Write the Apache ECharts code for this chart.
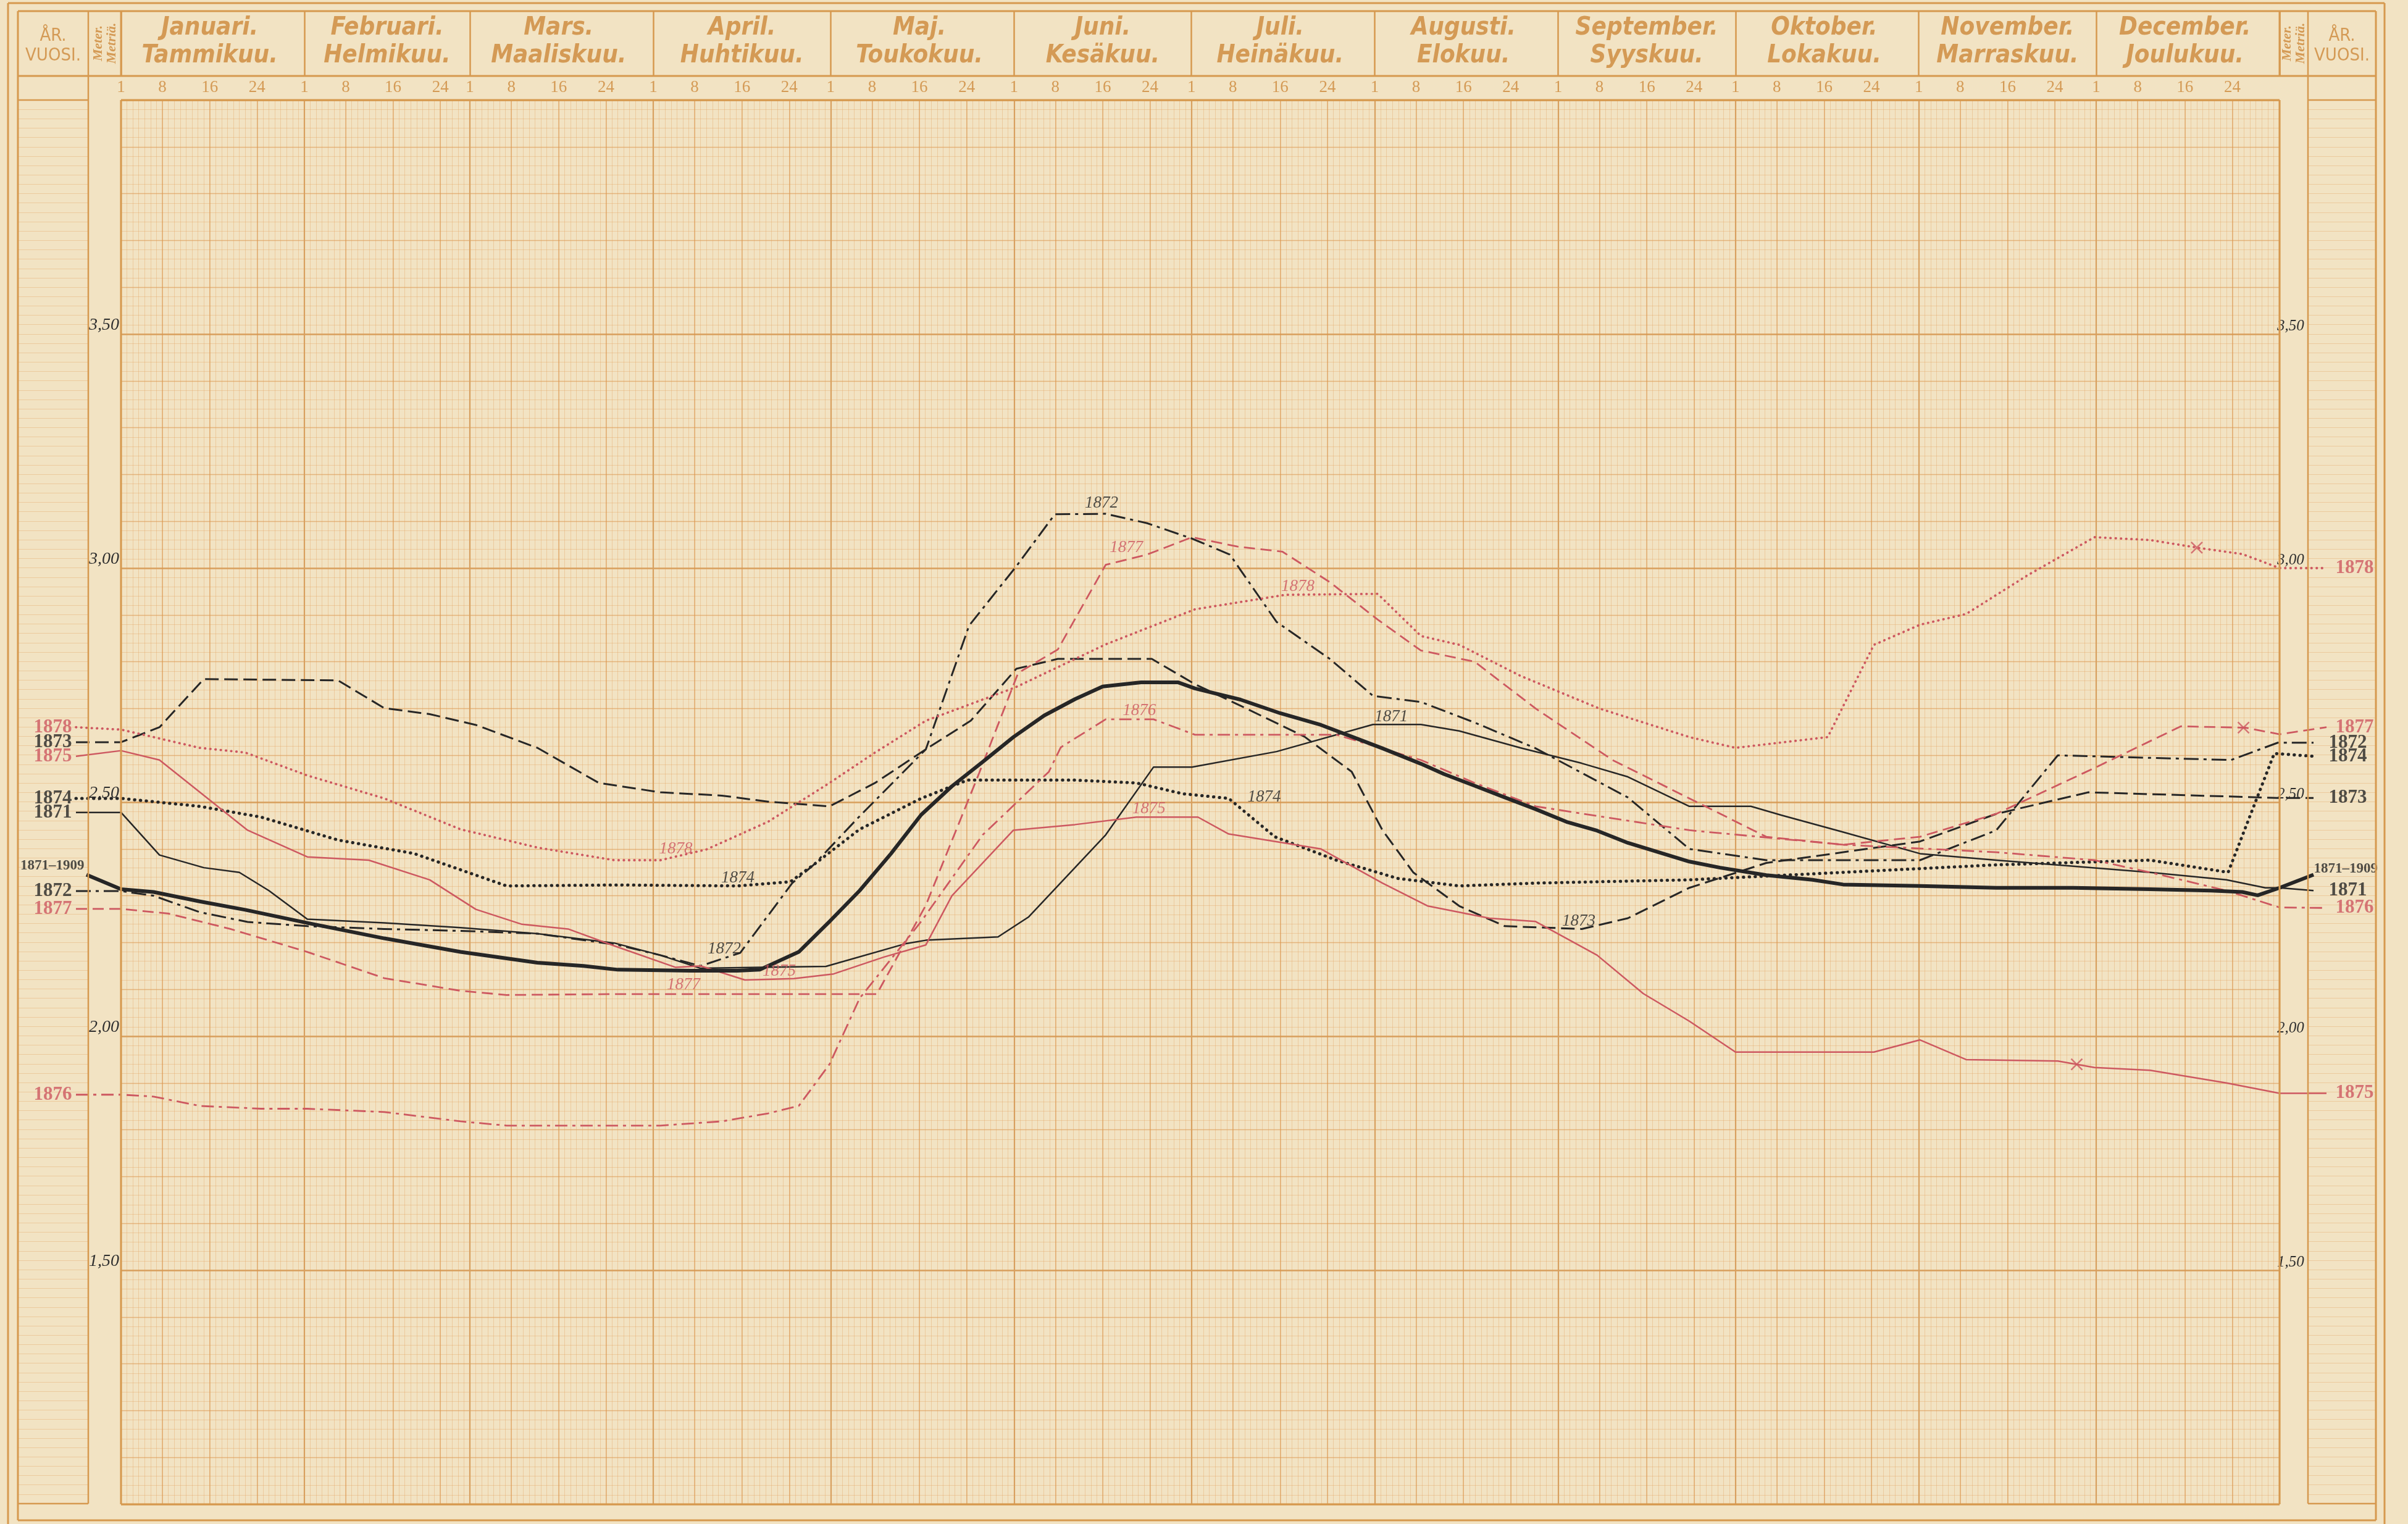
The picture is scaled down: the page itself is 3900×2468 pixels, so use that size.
<!DOCTYPE html>
<html><head><meta charset="utf-8">
<script src="https://cdn.jsdelivr.net/npm/echarts@6/dist/echarts.min.js"></script>
<style>html,body{margin:0;padding:0;background:#f2e3c3}#c{width:3900px;height:2468px}</style>
</head><body><div id="c"></div><script>
// ---------- categories / tick labels ----------
const monthsSv = ['Januari.','Februari.','Mars.','April.','Maj.','Juni.','Juli.','Augusti.','September.','Oktober.','November.','December.'];
const monthsFi = ['Tammikuu.','Helmikuu.','Maaliskuu.','Huhtikuu.','Toukokuu.','Kesäkuu.','Heinäkuu.','Elokuu.','Syyskuu.','Lokakuu.','Marraskuu.','Joulukuu.'];
const monthDays = [31,28,31,30,31,30,31,31,30,31,30,31];
const dayTickLabels = [1,8,16,24];
const yLabelTicks = [1.5,2.0,2.5,3.0,3.5];

// ---------- series: [day of year (0 = 1 Jan), water level m] ----------
const years = ['1871–1909','1871','1872','1873','1874','1875','1876','1877','1878'];
const leftLabelValues  = [2.345,2.478,2.31,2.628,2.508,2.598,1.875,2.272,2.66];
const rightLabelValues = [2.345,2.311,2.627,2.509,2.598,1.878,2.274,2.66,3.0];

const yAvg = [[0,2.314],[5.5,2.308],[13.3,2.288],[21,2.27],[31.5,2.242],[44.5,2.209],[57.4,2.18],[70.4,2.157],[78.2,2.15],[84,2.142],[96.4,2.14],[104.2,2.14],[108,2.142],[114.6,2.18],[119.8,2.245],[124.9,2.311],[130.2,2.39],[135.3,2.473],[140.5,2.534],[145.7,2.586],[150.9,2.639],[156.1,2.685],[161.3,2.72],[166,2.747],[172.5,2.756],[178.7,2.756],[181.6,2.743],[189.3,2.719],[196,2.69],[202.9,2.665],[208.1,2.64],[213.3,2.615],[219.8,2.582],[223.7,2.56],[228.9,2.535],[234,2.51],[239.2,2.485],[244.4,2.458],[249.6,2.439],[254.8,2.413],[260,2.393],[265.2,2.373],[270.4,2.36],[278.2,2.344],[286,2.334],[291.2,2.324],[304.2,2.321],[317.1,2.317],[330.1,2.317],[343.1,2.314],[353.4,2.311],[358.7,2.308],[361.3,2.301],[365,2.317]];
const y1871 = [[0,2.478],[6.5,2.387],[14,2.36],[20,2.35],[25,2.311],[31.5,2.25],[44.5,2.242],[57.4,2.232],[70.4,2.219],[83.4,2.199],[91.2,2.173],[98,2.145],[108,2.147],[119.2,2.149],[132.8,2.198],[136.1,2.205],[148.3,2.212],[153.5,2.255],[161.3,2.36],[166.5,2.43],[174.6,2.575],[181.1,2.575],[195.4,2.608],[211.7,2.666],[219.8,2.666],[226.3,2.652],[236.6,2.616],[247,2.583],[254.8,2.554],[265.2,2.491],[275.6,2.491],[280.8,2.472],[291.2,2.436],[304.2,2.39],[317.1,2.376],[330.1,2.363],[343.1,2.35],[356,2.334],[362.6,2.317],[365,2.317]];
const y1872 = [[0,2.31],[5.5,2.3],[13.3,2.265],[21.4,2.244],[31.5,2.235],[44.5,2.229],[57.4,2.225],[70.4,2.219],[84,2.195],[91.2,2.173],[98,2.15],[104.7,2.178],[113.5,2.327],[117.2,2.367],[124.9,2.47],[136.1,2.613],[143.4,2.877],[151.4,3.004],[157.9,3.115],[166.5,3.116],[173.5,3.096],[181.1,3.063],[187.5,3.029],[189.3,2.996],[195.4,2.885],[204.4,2.806],[211.7,2.727],[219.8,2.714],[228.9,2.67],[239.2,2.615],[254.8,2.51],[265.2,2.4],[278.2,2.376],[304.2,2.376],[317.1,2.44],[327.5,2.6],[356.8,2.59],[364.7,2.627]];
const y1873 = [[0,2.628],[6.5,2.66],[14,2.763],[36.7,2.76],[44.5,2.701],[52.2,2.688],[60,2.665],[70.4,2.616],[80.8,2.541],[91.2,2.521],[101.6,2.514],[109.4,2.501],[119.8,2.491],[127.5,2.541],[136.1,2.613],[143.7,2.674],[151.4,2.785],[158.4,2.806],[174.3,2.806],[181.6,2.752],[189.3,2.706],[200.1,2.64],[208.1,2.565],[213.3,2.44],[218.5,2.35],[226.3,2.278],[234,2.235],[247,2.229],[254.8,2.252],[265.2,2.317],[278.2,2.37],[304.2,2.416],[317.1,2.475],[332.7,2.521],[364.7,2.509]];
const y1874 = [[0,2.508],[13.3,2.491],[23.7,2.468],[36.7,2.419],[49.6,2.39],[65.2,2.321],[84,2.323],[104.2,2.321],[113.2,2.33],[117.2,2.367],[124.9,2.442],[135.3,2.508],[143.1,2.547],[150.9,2.547],[161.3,2.547],[171.7,2.541],[179.5,2.518],[187.3,2.508],[195.1,2.426],[205.5,2.376],[215.9,2.337],[226.3,2.321],[239.2,2.327],[265.2,2.334],[291.2,2.35],[317.1,2.366],[343.1,2.376],[356.3,2.35],[364.1,2.604]];
const y1875 = [[0,2.61],[6.5,2.59],[21.4,2.44],[31.5,2.383],[41.9,2.376],[52.2,2.334],[60,2.271],[67.8,2.239],[75.6,2.229],[83.4,2.193],[93.8,2.147],[98,2.15],[105.5,2.12],[113.8,2.123],[120.5,2.133],[129,2.169],[136.1,2.195],[140.5,2.3],[150.9,2.44],[161.3,2.452],[171.7,2.468],[182.1,2.468],[187.3,2.432],[202.9,2.4],[213.3,2.327],[221,2.278],[231.4,2.252],[239.2,2.245],[249.6,2.173],[257.4,2.091],[265.2,2.032],[273,1.966],[296.4,1.966],[304.2,1.992],[312,1.95],[327.5,1.947],[333.7,1.933],[343.1,1.927],[356,1.9],[365,1.878]];
const y1876 = [[0,1.875],[5.5,1.871],[13.3,1.851],[23.7,1.845],[31.5,1.845],[44.5,1.838],[57.4,1.818],[65.2,1.809],[91.2,1.809],[101.6,1.818],[109.4,1.835],[114.6,1.851],[119.8,1.94],[124.9,2.081],[135.3,2.245],[145.7,2.43],[156.9,2.565],[158.9,2.617],[166.5,2.677],[174.6,2.677],[181.6,2.644],[205.5,2.644],[219.8,2.59],[228.9,2.541],[239.2,2.491],[265.2,2.44],[291.2,2.409],[317.1,2.393],[333.7,2.376],[343.1,2.35],[356,2.311],[365,2.275]];
const y1877 = [[0,2.272],[8,2.262],[18.5,2.229],[31.5,2.18],[44.5,2.124],[57.4,2.097],[65.2,2.088],[84,2.09],[127.8,2.09],[136.1,2.28],[145.2,2.565],[151.7,2.776],[158.4,2.826],[166.5,3.007],[173.5,3.029],[181.1,3.066],[188.8,3.046],[196.4,3.035],[204.4,2.97],[212.5,2.89],[219.8,2.824],[228.9,2.8],[239.2,2.7],[252.2,2.59],[265.2,2.508],[278.2,2.426],[291.2,2.409],[304.2,2.426],[317.1,2.475],[333.7,2.573],[348.3,2.662],[359.2,2.659],[365,2.645]];
const y1878 = [[0,2.655],[5.5,2.639],[13.3,2.616],[21,2.606],[31.5,2.557],[44.5,2.508],[57.4,2.442],[70.4,2.403],[83.4,2.376],[91.2,2.376],[99,2.399],[109.4,2.458],[119.8,2.541],[127.5,2.606],[136.1,2.674],[151.2,2.745],[166.5,2.837],[181.6,2.912],[196.9,2.943],[212.5,2.945],[219.8,2.855],[226.3,2.836],[236.6,2.77],[250,2.7],[265.2,2.639],[273,2.616],[288.6,2.639],[296.4,2.836],[304.2,2.879],[312,2.902],[322.3,2.984],[333.7,3.066],[343.1,3.06],[351.4,3.043],[358.7,3.03],[365,3.0]];
const seriesData = [yAvg,y1871,y1872,y1873,y1874,y1875,y1876,y1877,y1878];

// inline year annotations: [text, day, level]
const inlineLabels = [['1872',165.8,3.138],['1877',170,3.043],['1878',199,2.96],['1876',172.2,2.695],['1875',173.8,2.485],['1874',193.3,2.511],['1871',214.8,2.682],['1873',246.5,2.245],['1872',102,2.186],['1874',104.3,2.338],['1877',95.1,2.11],['1875',111.3,2.138],['1878',93.8,2.4]];
// cross marks: [year, day]
const crossMarks = [['1875',330.7],['1877',358.9],['1878',351]];

// ---------- styles ----------
const BLACK = '#262626', RED = '#cd5860', ORANGE = '#d49a55', FRAME = '#d6994f';
const styles = {
  '1871–1909': {color:BLACK, width:6, type:'solid'},
  '1871': {color:BLACK, width:2.5, type:'solid'},
  '1872': {color:BLACK, width:3, type:[24,8,5,8]},
  '1873': {color:BLACK, width:3, type:[22,9]},
  '1874': {color:BLACK, width:5, type:[0.5,9], cap:'round'},
  '1875': {color:RED, width:2.5, type:'solid'},
  '1876': {color:RED, width:2.8, type:[20,8,5,8]},
  '1877': {color:RED, width:2.8, type:[18,9]},
  '1878': {color:RED, width:3.8, type:[0.5,8], cap:'round'}
};
const W=3900, H=2468, L=196, R=3692, T=162, B=2436;
const pxPerDay = (R-L)/365;
const fullMin = -L/pxPerDay, fullMax = 365 + (W-R)/pxPerDay;
const leadLeft = (123-L)/pxPerDay, leadLeftAvg = (140-L)/pxPerDay;
const leadRightBlack = (3747-L)/pxPerDay, leadRightRed = (3768-L)/pxPerDay;
const SERIF = "'Liberation Serif','DejaVu Serif',serif";
const NARROW = "'Liberation Sans Narrow','DejaVu Sans Condensed','Roboto',sans-serif";

// ---------- helpers ----------
const monthStart=[]; {let a=0; monthDays.forEach(d=>{monthStart.push(a); a+=d;});}
const dayCats = Array.from({length:366},(_,i)=>String(i));
function monthOf(i){ for(let m=11;m>=0;m--) if(i>=monthStart[m]) return m; return 0; }
const tickIdx = new Set(); monthStart.forEach(s=>dayTickLabels.forEach(t=>tickIdx.add(s+t-1)));
const monthLineIdx = new Set([...monthStart,365]);
const monthMid = {}; monthStart.forEach((s,m)=>{monthMid[s+Math.floor(monthDays[m]/2)] = m;});
function interp(pts, d){ for(let i=1;i<pts.length;i++){ if(d<=pts[i][0]){const a=pts[i-1],b=pts[i]; return a[1]+(b[1]-a[1])*(d-a[0])/(b[0]-a[0]);} } return pts[pts.length-1][1]; }

// all marks drawn on grid 4: full page width, same day scale as the plot
const SX = 6, SY = 6;
const series = [];
years.forEach((y,k)=>{
  const st = styles[y];
  const isRed = st.color===RED;
  const lStart = k===0 ? leadLeftAvg : leadLeft;
  const rEnd = isRed ? leadRightRed : leadRightBlack;
  const data = [[lStart,leftLabelValues[k]], ...seriesData[k], [rEnd,rightLabelValues[k]]];
  series.push({type:'line', name:y, data, xAxisIndex:SX, yAxisIndex:SY, symbol:'none', clip:false, silent:true, animation:false,
    z: k===0?6:4,
    lineStyle:{color:st.color, width:st.width, type:st.type, cap:st.cap||'butt', join:'round'}});
});
const endLabelData = [];
years.forEach((y,k)=>{
  const st = styles[y]; const isRed = st.color===RED; const avg = k===0;
  const lStart = avg ? leadLeftAvg : leadLeft;
  const rEnd = isRed ? leadRightRed : leadRightBlack;
  const font = {fontFamily:SERIF, fontWeight:'bold', fontSize: avg?23:31, color:st.color};
  endLabelData.push({value:[lStart,leftLabelValues[k]], label:Object.assign({show:true, formatter:y, position:'left', distance:avg?3:6, offset:avg?[0,-14]:[0,0]},font)});
  endLabelData.push({value:[rEnd,rightLabelValues[k]], label:Object.assign({show:true, formatter:y, position:'right', distance:avg?0:(isRed?14:24), offset:avg?[0,-9]:[0,0]},font)});
});
series.push({type:'scatter', xAxisIndex:SX, yAxisIndex:SY, data:endLabelData, symbol:'circle', symbolSize:1, itemStyle:{color:'rgba(0,0,0,0)'}, clip:false, silent:true, animation:false, z:8});
series.push({type:'scatter', xAxisIndex:SX, yAxisIndex:SY, clip:false, silent:true, animation:false, z:8, symbol:'circle', symbolSize:1, itemStyle:{color:'rgba(0,0,0,0)'},
  data: inlineLabels.map(([t,d,v])=>({value:[d,v], label:{show:true, formatter:t, position:'inside', color:(+t>=1875?RED:BLACK), fontFamily:SERIF, fontStyle:'italic', fontSize:27}}))});
series.push({type:'scatter', xAxisIndex:SX, yAxisIndex:SY, clip:false, silent:true, animation:false, z:7,
  symbol:'path://M0,0L10,10M10,0L0,10', symbolSize:18, itemStyle:{color:'none', borderColor:RED, borderWidth:2.5},
  data: crossMarks.map(([y,d])=>[d, interp(seriesData[years.indexOf(y)], d)])});

// ---------- frame graphics ----------
const g = [];
function hl(x1,x2,y,w){ g.push({type:'line', silent:true, z:100, shape:{x1,y1:y,x2,y2:y}, style:{stroke:FRAME, lineWidth:w}}); }
function vl(x,y1,y2,w){ g.push({type:'line', silent:true, z:100, shape:{x1:x,y1,x2:x,y2}, style:{stroke:FRAME, lineWidth:w}}); }
vl(13,5,H,3); hl(13,3862,5,3); vl(3862,5,H,3);
hl(29,3848,18,3); hl(29,3848,2462,3); vl(29,18,2462,3); vl(3848,18,2462,3);
hl(29,3848,123,3);
hl(29,143,162,2.5); hl(3738,3848,162,2.5);
vl(143,18,2435,2.5); vl(3738,18,2435,2.5);
hl(29,143,2435,2.5); hl(3738,3848,2435,2.5);
vl(L,18,123,3); vl(L,T,B,3); vl(R,18,123,3); vl(R,T,B,3); hl(L,R,T,3); hl(L,R,B,3);
function txt(x,y,text,font,extra){ g.push(Object.assign({type:'text', silent:true, z:101, x, y, style:Object.assign({text, fill:ORANGE, align:'center', verticalAlign:'middle'},font)},extra||{})); }
[86,3793].forEach(cx=>{
  txt(cx,58,'ÅR.',{fontFamily:NARROW, fontSize:29});
  txt(cx,90,'VUOSI.',{fontFamily:NARROW, fontSize:29});
});
[170,3715].forEach(cx=>{
  txt(cx,70,'Meter.\nMetriä.',{fontFamily:SERIF, fontSize:22, fontWeight:'bold', fontStyle:'italic', lineHeight:22}, {rotation:Math.PI/2});
});

const fine = 'rgba(224,158,92,0.36)', mid = 'rgba(216,146,74,0.6)', major = '#d8a05f';
const yLabelFmt = (v)=> yLabelTicks.some(t=>Math.abs(t-v)<1e-6) ? v.toFixed(2).replace('.',',') : '';
const option = {
  backgroundColor:'#f2e3c3',
  animation:false,
  grid:[
    {left:L, right:W-R, top:T, bottom:H-B},
    {left:L, right:W-R, top:18, height:105},
    {left:29, width:114, top:T, bottom:H-2435},
    {left:3738, width:110, top:T, bottom:H-2435},
    {left:0, right:0, top:T, bottom:H-B}
  ],
  xAxis:[
    {type:'value', gridIndex:0, min:0, max:365, interval:1, axisLine:{show:false}, axisTick:{show:false}, axisLabel:{show:false}, splitLine:{show:true, lineStyle:{color:fine, width:1}}},
    {type:'category', gridIndex:0, position:'top', data:dayCats, boundaryGap:false, axisLine:{show:false}, axisTick:{show:false},
      axisLabel:{show:true, showMinLabel:true, interval:(i)=>tickIdx.has(i), formatter:(v)=>{const i=+v; return String(i-monthStart[monthOf(i)]+1);}, margin:7, color:ORANGE, fontSize:27, fontFamily:SERIF},
      splitLine:{show:true, interval:(i)=>tickIdx.has(i), lineStyle:{color:mid, width:1.6}}},
    {type:'category', gridIndex:0, data:dayCats, boundaryGap:false, axisLine:{show:false}, axisTick:{show:false}, axisLabel:{show:false},
      splitLine:{show:true, interval:(i)=>monthLineIdx.has(i), lineStyle:{color:major, width:2.2}}},
    {type:'category', gridIndex:1, data:dayCats, boundaryGap:false, axisLine:{show:false}, axisTick:{show:false},
      axisLabel:{show:true, inside:true, interval:(i)=>(i in monthMid), formatter:(v)=>{const m=monthMid[+v]; return monthsSv[m]+'\n'+monthsFi[m];}, margin:10, color:ORANGE, fontSize:40, lineHeight:45, fontStyle:'italic', fontWeight:'bold', fontFamily:NARROW},
      splitLine:{show:true, interval:(i)=>monthLineIdx.has(i), lineStyle:{color:FRAME, width:2.5}}},
    {type:'value', gridIndex:2, min:0, max:1, show:false},
    {type:'value', gridIndex:3, min:0, max:1, show:false},
    {type:'value', gridIndex:4, min:fullMin, max:fullMax, show:false, splitLine:{show:false}}
  ],
  yAxis:[
    {type:'value', gridIndex:0, min:1, max:4, interval:0.1, axisLine:{show:false}, axisTick:{show:false}, axisLabel:{show:false},
      splitLine:{show:true, lineStyle:{color:mid, width:1.3}}, minorSplitLine:{show:true, lineStyle:{color:fine, width:1}}},
    {type:'value', gridIndex:0, min:1, max:4, interval:0.5, position:'left', axisLine:{show:false}, axisTick:{show:false},
      axisLabel:{show:true, margin:3, verticalAlign:'bottom', formatter:yLabelFmt, color:'#2e2e2e', fontSize:28, fontStyle:'italic', fontFamily:SERIF},
      splitLine:{show:true, lineStyle:{color:major, width:2.6}}},
    {type:'value', gridIndex:0, min:1, max:4, interval:0.5, position:'right', axisLine:{show:false}, axisTick:{show:false},
      axisLabel:{show:true, margin:-4, verticalAlign:'bottom', formatter:yLabelFmt, color:'#2e2e2e', fontSize:25, fontStyle:'italic', fontFamily:SERIF},
      splitLine:{show:false}},
    {type:'value', gridIndex:1, min:0, max:1, show:false},
    {type:'value', gridIndex:2, min:1, max:4, interval:0.1, axisLine:{show:false}, axisTick:{show:false}, axisLabel:{show:false},
      splitLine:{show:true, lineStyle:{color:fine, width:1}}, minorSplitLine:{show:true, lineStyle:{color:fine, width:1}}},
    {type:'value', gridIndex:3, min:1, max:4, interval:0.1, axisLine:{show:false}, axisTick:{show:false}, axisLabel:{show:false},
      splitLine:{show:true, lineStyle:{color:fine, width:1}}, minorSplitLine:{show:true, lineStyle:{color:fine, width:1}}},
    {type:'value', gridIndex:4, min:1, max:4, show:false, splitLine:{show:false}}
  ],
  series,
  graphic: g
};
const chart = echarts.init(document.getElementById('c'), null, {renderer:'canvas', width:W, height:H});
chart.setOption(option);
</script></body></html>
